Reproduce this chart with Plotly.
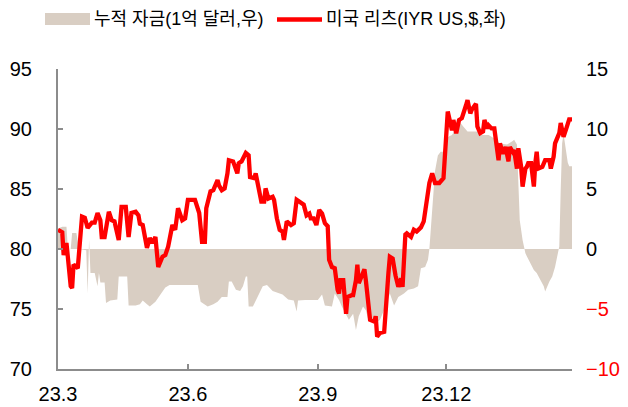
import pandas as pd
import plotly.graph_objects as go

START = pd.Timestamp("2023-03-01")

# 미국 리츠 (IYR US, $) — 좌축. day = 2023-03-01 기준 경과일
reit_day = [0, 3, 4, 6, 9, 10, 11, 14, 17, 19, 21, 24, 26, 28, 30, 31, 33, 35, 36, 38,
            40, 43, 45, 48, 50, 52, 55, 57, 58, 60, 63, 65, 67, 69, 71, 74, 76, 78, 81, 83,
            85, 88, 90, 92, 94, 97, 100, 102, 104, 105, 108, 110, 113, 114, 116, 118, 120, 121, 124, 127,
            128, 130, 133, 135, 136, 139, 140, 142, 144, 146, 147, 149, 152, 153, 155, 157, 159, 160, 162, 165,
            167, 169, 172, 174, 176, 178, 179, 181, 183, 185, 187, 189, 191, 192, 194, 196, 198, 199, 200, 202,
            204, 205, 208, 209, 211, 212, 213, 215, 217, 218, 220, 221, 224, 225, 226, 228, 231, 232, 234, 235,
            237, 239, 241, 243, 244, 246, 247, 250, 252, 254, 257, 259, 260, 261, 263, 265, 267, 270, 273, 276,
            278, 279, 280, 282, 284, 286, 289, 290, 292, 293, 296, 297, 299, 301, 302, 304, 305, 307, 309, 311,
            312, 313, 315, 317, 319, 320, 322, 323, 325, 326, 328, 329, 331, 332, 333, 335, 336, 337, 338, 339,
            340, 343, 345, 348, 349, 351, 352, 354, 355, 356, 358, 360, 362, 364]
reit_val = [81.6, 81.4, 79.5, 80.5, 76.9, 76.75, 78.7, 78.4, 82.7, 82.6, 81.75, 82.2, 82.2, 83.0, 82.4, 81.0, 81.0, 82.8, 83.1, 82.4,
            82.3, 80.75, 83.5, 83.5, 81.0, 83.0, 83.1, 82.8, 82.1, 82.0, 80.1, 80.9, 80.5, 81.0, 78.5, 79.35, 79.5, 80.2, 82.0, 81.6,
            83.4, 82.4, 82.55, 84.1, 84.1, 84.1, 83.0, 80.6, 80.6, 83.4, 84.8, 84.9, 85.75, 85.3, 84.9, 85.05, 86.3, 87.4, 87.3, 86.3,
            87.15, 87.3, 88.0, 87.8, 86.0, 85.9, 86.3, 84.9, 83.95, 83.95, 85.05, 84.2, 84.35, 84.1, 82.55, 81.6, 81.45, 80.75, 82.3, 82.0,
            82.15, 84.1, 83.8, 83.7, 82.8, 82.95, 82.55, 82.55, 82.0, 83.25, 82.95, 82.15, 81.9, 79.1, 78.5, 78.4, 76.6, 76.3, 77.4, 77.4,
            74.6, 76.0, 76.15, 76.15, 77.4, 78.7, 77.15, 77.7, 78.3, 77.4, 74.6, 74.1, 73.95, 74.4, 72.7, 73.0, 73.1, 75.2, 78.0, 79.35,
            79.2, 77.8, 76.85, 77.55, 76.85, 81.2, 81.3, 81.0, 81.6, 81.45, 81.8, 82.3, 83.0, 83.8, 85.5, 86.3, 85.5, 85.5, 85.9, 91.45,
            90.6, 89.9, 90.75, 89.65, 90.75, 90.9, 92.0, 92.4, 91.3, 91.6, 92.1, 90.2, 89.65, 89.8, 90.75, 90.05, 90.3, 90.05, 90.05, 88.1,
            87.4, 88.8, 87.95, 88.5, 87.3, 88.5, 88.1, 88.25, 86.7, 88.4, 86.85, 85.2, 86.7, 86.85, 87.15, 87.15, 86.0, 85.2, 87.15, 88.1,
            86.7, 86.85, 87.4, 87.4, 86.7, 87.7, 88.8, 89.5, 89.65, 90.5, 89.35, 90.05, 90.8, 90.8]

# 누적 자금 (1억 달러) — 우축
flow_day = [0, 3, 6, 7, 9, 10, 13, 15, 20, 21, 22, 23, 26, 28, 29, 30, 33, 34, 37, 42,
            43, 49, 50, 55, 58, 60, 63, 65, 69, 72, 76, 79, 90, 99, 101, 106, 110, 113, 116, 120,
            121, 123, 126, 129, 131, 133, 134, 135, 138, 142, 145, 148, 152, 159, 163, 167, 169, 170, 175, 184,
            187, 189, 194, 196, 199, 201, 206, 209, 211, 213, 216, 218, 220, 223, 225, 228, 232, 235, 238, 241,
            245, 248, 252, 255, 257, 260, 262, 263, 265, 266, 267, 269, 271, 273, 274, 277, 279, 281, 283, 285,
            287, 290, 297, 299, 305, 309, 313, 318, 322, 323, 325, 326, 327, 329, 330, 331, 332, 334, 337, 339,
            342, 344, 345, 348, 350, 352, 354, 355, 356, 357, 358, 360, 361, 362, 364]
flow_val = [1.7, 1.86, 1.86, 0, 0, 1.33, 1.33, 0, -0.1, -3.7, 0.75, -2.0, -2.0, -3.1, -2.0, -2.8, -2.8, -4.5, -4.3, -4.2,
            -2.3, -2.3, -4.7, -4.7, -4.6, -4.3, -4.6, -4.8, -4.4, -3.9, -3.2, -3.0, -3.0, -3.0, -4.4, -4.8, -4.6, -4.4, -4.0, -4.0,
            -2.7, -2.7, -3.4, -3.5, -3.1, -2.3, -2.3, -4.8, -4.8, -3.9, -3.1, -3.0, -3.5, -3.8, -4.2, -4.3, -5.2, -4.3, -4.25, -4.25,
            -3.8, -4.7, -4.8, -3.7, -4.25, -4.8, -5.9, -5.4, -6.75, -5.6, -4.8, -5.1, -6.0, -5.9, -6.2, -5.9, -4.8, -3.7, -4.7, -4.0,
            -3.7, -3.4, -3.3, -3.1, -1.6, -1.5, -0.9, 0, 3.0, 4.9, 6.5, 7.8, 8.1, 8.1, 9.1, 9.4, 9.5, 9.9, 10.2, 10.5,
            10.2, 9.8, 9.8, 9.5, 9.5, 9.2, 8.8, 8.7, 9.0, 9.1, 8.7, 4.6, 2.4, 0.75, 0.2, -0.35, -0.6, -1.05, -1.75, -2.0,
            -2.6, -3.1, -3.55, -2.7, -2.3, -1.5, -0.35, 0.2, 4.9, 8.8, 9.6, 8.0, 7.2, 6.9, 6.9]

assert len(reit_day) == len(reit_val)
assert len(flow_day) == len(flow_val)

x_tick_dates = ["2023-03-01", "2023-06-01", "2023-09-01", "2023-12-01"]
x_tick_text = ["23.3", "23.6", "23.9", "23.12"]
left_ticks = [70, 75, 80, 85, 90, 95]
right_ticks = [-10, -5, 0, 5, 10, 15]

legend_names = ["누적 자금(1억 달러,우)", "미국 리츠(IYR US,$,좌)"]

RED = "#FF0000"
TAN = "#D9CEC3"
AXIS = "#8C8C8C"
FONT = "Liberation Sans, Noto Sans CJK KR, sans-serif"

reit_x = START + pd.to_timedelta(reit_day, unit="D")
flow_x = START + pd.to_timedelta(flow_day, unit="D")

fig = go.Figure()

# 누적 자금 (면적, 우축) — y
fig.add_trace(go.Scatter(
    x=flow_x, y=flow_val, yaxis="y",
    mode="lines", fill="tozeroy", fillcolor=TAN,
    line=dict(width=0, color=TAN),
    name=legend_names[0], showlegend=False,
))
# 미국 리츠 (선, 좌축) — y2 위에 그려지도록
fig.add_trace(go.Scatter(
    x=reit_x, y=reit_val, yaxis="y2",
    mode="lines", line=dict(color=RED, width=4.3),
    name=legend_names[1], showlegend=False,
))

# 우축 음수 라벨은 빨간색
right_text = [f"<span style='color:{RED}'>−{abs(v)}</span>" if v < 0 else str(v)
              for v in right_ticks]

# 페이지 body 기본 여백(8px)만큼 줄여서 배치
OFF = 8
W, H = 628 - OFF, 407 - OFF
L, R, T, B = 58 - OFF, 56, 69 - OFF, 38
pw, ph = W - L - R, H - T - B


def px(x):
    return (x - OFF - L) / pw


def py(y):
    return (H - B - (y - OFF)) / ph


# 범례 (수동)
fig.add_shape(type="rect", xref="paper", yref="paper",
              x0=px(45), x1=px(90), y0=py(25), y1=py(13),
              fillcolor=TAN, line_width=0)
fig.add_shape(type="line", xref="paper", yref="paper",
              x0=px(277), x1=px(322), y0=py(19.5), y1=py(19.5),
              line=dict(color=RED, width=4.5))
fig.add_annotation(text=legend_names[0], xref="paper", yref="paper",
                   x=px(92), y=py(19.5), xanchor="left", yanchor="middle",
                   showarrow=False, font=dict(size=18, color="#000"))
fig.add_annotation(text=legend_names[1], xref="paper", yref="paper",
                   x=px(324), y=py(19.5), xanchor="left", yanchor="middle",
                   showarrow=False, font=dict(size=18, color="#000"))

fig.update_layout(
    width=W, height=H,
    margin=dict(l=L, r=R, t=T, b=B),
    paper_bgcolor="white", plot_bgcolor="white",
    font=dict(family=FONT, size=20, color="#000"),
    showlegend=False,
    xaxis=dict(
        range=[START, START + pd.Timedelta(days=364)],
        tickvals=x_tick_dates, ticktext=x_tick_text,
        showline=True, linecolor=AXIS, linewidth=2,
        ticks="inside", ticklen=5, tickcolor=AXIS, tickwidth=2,
        showgrid=False, zeroline=False, ticklabelstandoff=6,
        automargin=False,
    ),
    yaxis=dict(
        side="right", range=[-10, 15],
        tickvals=right_ticks, ticktext=right_text,
        showline=False, ticks="", showgrid=False, zeroline=False,
        ticklabelstandoff=13, automargin=False,
    ),
    yaxis2=dict(
        side="left", overlaying="y", range=[70, 95],
        tickvals=left_ticks,
        showline=True, linecolor=AXIS, linewidth=2,
        ticks="inside", ticklen=5, tickcolor=AXIS, tickwidth=2,
        showgrid=False, zeroline=False, ticklabelstandoff=20,
        automargin=False,
    ),
)

fig.write_html("out.html")
